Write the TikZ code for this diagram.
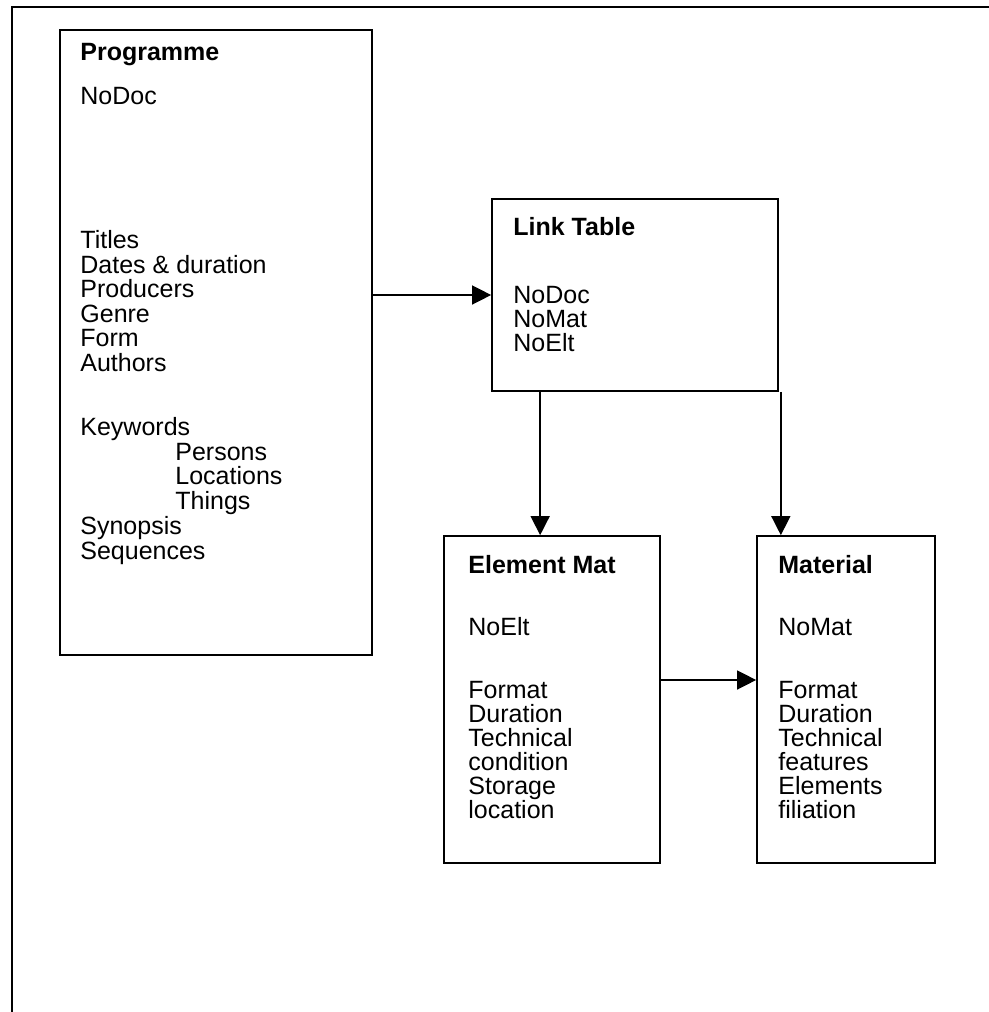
\documentclass[tikz,border=0pt]{standalone}
\usepackage{fontspec}
\setmainfont{Liberation Sans}
\usetikzlibrary{arrows.meta}
\begin{document}
\begin{tikzpicture}[x=0.5pt, y=-0.5pt,
  every node/.style={font=\fontsize{12.5}{15}\selectfont},
  tbl/.style={draw, line width=0.85pt, inner sep=0pt},
  fld/.style={anchor=base west, inner sep=0pt},
  hdr/.style={fld, font=\fontsize{12.5}{15}\selectfont\bfseries},
  arr/.style={-{Triangle[length=9.5pt,width=9.5pt]}, line width=0.7pt}]
\clip (0,0) rectangle (989,1012);
% page frame
\draw[line width=1.1pt] (12,1030) |- (1010,7);
% tables
\node[tbl, minimum width=156pt, minimum height=312.5pt] (prog) at (216,342.5) {};
\node[tbl, minimum width=143pt, minimum height=96pt] (link) at (635,295) {};
\node[tbl, minimum width=108pt, minimum height=163.5pt] (elem) at (552,699.5) {};
\node[tbl, minimum width=89pt, minimum height=163.5pt] (mat) at (846,699.5) {};
% Programme
\node[hdr] (progtitle) at (80,60) {Programme};
\foreach \x/\y/\t in {80/104/NoDoc, 80/248/Titles, 80/273/Dates \& duration, 80/297/Producers,
    80/322/Genre, 80/346/Form, 80/371/Authors, 80/435/Keywords, 175/460/Persons,
    175/484/Locations, 175/509/Things, 80/534/Synopsis, 80/559/Sequences}
  \node[fld] at (\x,\y) {\t};
% Link Table
\node[hdr] (linktitle) at (513,235) {Link Table};
\foreach \y/\t in {303/NoDoc, 327/NoMat, 351/NoElt}
  \node[fld] at (513,\y) {\t};
% Element Mat
\node[hdr] (elemtitle) at (468,573) {Element Mat};
\foreach \y/\t in {635/NoElt, 698/Format, 722/Duration, 746/Technical, 770/condition,
    794/Storage, 818/location}
  \node[fld] at (468,\y) {\t};
% Material
\node[hdr] (mattitle) at (778,573) {Material};
\foreach \y/\t in {635/NoMat, 698/Format, 722/Duration, 746/Technical, 770/features,
    794/Elements, 818/filiation}
  \node[fld] at (778,\y) {\t};
% links
\draw[arr] (prog.east |- link.west) -- (link.west);
\draw[arr] ([xshift=24.5pt]link.south west) -- ([xshift=24.5pt]link.south west |- elem.north);
\draw[arr] ([xshift=1pt]link.south east) -- ([xshift=1pt]link.south east |- mat.north);
\draw[arr] ([yshift=9.75pt]elem.east) -- ([yshift=9.75pt]elem.east -| mat.west);
\end{tikzpicture}
\end{document}
